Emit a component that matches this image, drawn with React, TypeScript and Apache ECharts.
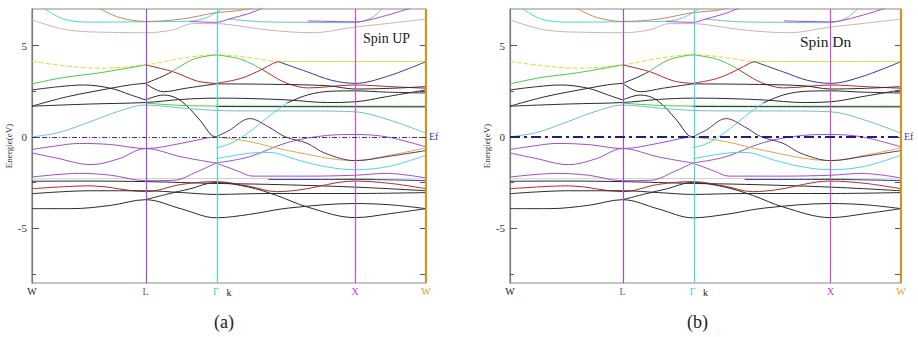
import React, { useEffect, useRef } from "react";
import * as echarts from "echarts";

type Pt = [number, number];

// ---- axes / labels ----
const kTicks = [0, 0.288, 0.467, 0.82, 1];
const kLabels = ["W", "L", "Γ", "X", "W"];
const energyLabels = [-5, 0, 5];
const energyMinor = [-7.5, -2.5, 2.5];
const energyMin = -8;
const energyMax = 7;
const fermiLevel = 0;
const panelTitles = ["Spin UP", "Spin Dn"];
const panelCaptions = ["(a)", "(b)"];

// ---- bands (k along W-L-Γ-X-W, E in eV) ----
const topCyan: Pt[] = [[0.03, 7.05], [0.08, 6.45], [0.15, 6.28], [0.288, 6.3], [0.4, 6.33], [0.44, 6.5], [0.467, 6.8], [0.49, 7.1]];
const topTeal: Pt[] = [[0.5, 6.45], [0.586, 6.3], [0.7, 6.27], [0.815, 6.25], [0.86, 6.5], [0.891, 7.05]];
const topMagenta: Pt[] = [[0.4, 6.32], [0.467, 6.27], [0.503, 6.47], [0.55, 6.75], [0.586, 7.05]];
const topPurple: Pt[] = [[0.7, 6.35], [0.82, 6.3], [0.9, 6.65], [0.96, 7.05]];
const topOrange: Pt[] = [[0.17, 7.05], [0.22, 6.55], [0.288, 6.32], [0.38, 6.45], [0.467, 6.8], [0.52, 6.9], [0.56, 7.05]];
const topGray: Pt[] = [[0, 6.41], [0.088, 5.86], [0.2, 5.72], [0.288, 5.7], [0.358, 5.86], [0.408, 6.2], [0.467, 6.2], [0.502, 6.14], [0.6, 5.85], [0.714, 5.7], [0.815, 6.0], [0.9, 6.2], [1, 6.45]];

const yellowDashed: Pt[] = [[0, 4.13], [0.08, 3.9], [0.164, 3.76], [0.288, 3.94], [0.38, 4.3], [0.467, 4.49], [0.53, 4.4], [0.617, 4.12]];
const yellowSolid: Pt[] = [[0.617, 4.12], [0.82, 4.12], [1, 4.12]];
const greenWL: Pt[] = [[0, 2.9], [0.08, 3.25], [0.17, 3.5], [0.288, 3.94]];
const darkRedLG: Pt[] = [[0.288, 3.94], [0.36, 3.55], [0.42, 3.05], [0.467, 2.93]];
const blackRiseL: Pt[] = [[0.288, 2.93], [0.33, 3.3], [0.355, 3.57]];
const greenRiseL: Pt[] = [[0.355, 3.57], [0.41, 4.25], [0.467, 4.49]];
const greenGX: Pt[] = [[0.467, 4.49], [0.53, 4.25], [0.584, 3.7]];
const redUpGX: Pt[] = [[0.467, 2.93], [0.53, 3.2], [0.584, 3.7], [0.61, 4.0], [0.625, 4.12]];
const redDownGX: Pt[] = [[0.584, 3.7], [0.63, 3.1], [0.66, 2.84], [0.7, 2.68], [0.82, 2.84], [0.91, 2.75], [1, 2.66]];
const blueGXW: Pt[] = [[0.625, 4.12], [0.7, 3.55], [0.76, 3.1], [0.82, 2.93], [0.9, 3.3], [1, 4.12]];

const blackW1: Pt[] = [[0, 2.57], [0.07, 2.75], [0.13, 2.84], [0.2, 2.66], [0.25, 2.3], [0.288, 2.02]];
const blackW2: Pt[] = [[0, 1.68], [0.09, 2.2], [0.2, 2.66], [0.25, 2.85], [0.288, 2.93]];
const blackL1: Pt[] = [[0.288, 2.02], [0.333, 2.29], [0.375, 2.02], [0.426, 0.92], [0.455, 0.1], [0.467, 0]];
const blackL2: Pt[] = [[0.288, 2.93], [0.333, 2.47], [0.39, 2.66], [0.467, 2.9]];
const blackFlatLong: Pt[] = [[0, 1.68], [0.15, 1.8], [0.288, 1.88], [0.38, 2.05], [0.467, 2.12], [0.55, 2.1], [0.65, 2.02], [0.75, 1.88], [0.82, 1.92], [0.9, 2.2], [1, 2.57]];
const blackG1: Pt[] = [[0.467, 2.9], [0.6, 2.88], [0.75, 2.8], [0.82, 2.62], [0.9, 2.65], [1, 2.75]];
const blackG3: Pt[] = [[0.647, 1.85], [0.7, 2.3], [0.76, 2.5], [0.82, 2.52], [0.9, 2.45], [1, 2.4]];
const blackFlatG: Pt[] = [[0.467, 1.66], [0.7, 1.65], [1, 1.64]];
const greenFlat: Pt[] = [[0.288, 1.85], [0.38, 1.72], [0.467, 1.69], [0.7, 1.68], [1, 1.68]];
const tealBand: Pt[] = [[0, 0.0], [0.07, 0.25], [0.15, 0.85], [0.22, 1.4], [0.288, 1.74], [0.39, 1.56], [0.467, 1.45], [0.55, 1.42], [0.7, 1.42], [0.82, 1.37], [0.91, 0.9], [1, 0.2]];
const cyanRise: Pt[] = [[0.467, -0.6], [0.5, -0.4], [0.53, -0.05], [0.56, 0.4], [0.6, 1.1], [0.647, 1.85]];

const purpleA: Pt[] = [[0, -0.69], [0.06, -0.5], [0.12, -0.36], [0.2, -0.42], [0.288, -0.64], [0.38, -0.35], [0.44, -0.08], [0.467, 0]];
const purpleB: Pt[] = [[0, -0.88], [0.06, -1.15], [0.15, -1.52], [0.22, -1.2], [0.288, -0.64], [0.38, -1.1], [0.467, -1.43]];
const purpleC: Pt[] = [[0, -2.2], [0.12, -2.0], [0.2, -2.1], [0.288, -2.4], [0.36, -2.38], [0.42, -1.9], [0.467, -1.43]];
const purpleP1: Pt[] = [[0.467, -1.43], [0.55, -1.1], [0.65, -0.3], [0.75, 0.08], [0.82, 0.13], [0.9, 0.0], [1, -0.55]];
const purpleP3: Pt[] = [[0.467, -1.43], [0.52, -1.85], [0.56, -2.15], [0.7, -2.15], [0.82, -2.1], [0.9, -2.0], [1, -2.25]];
const orangeBand: Pt[] = [[0.467, 0], [0.55, -0.25], [0.65, -0.75], [0.82, -1.3], [0.91, -1.0], [1, -0.6]];
const darkBand: Pt[] = [[0.467, 0], [0.5, 0.35], [0.553, 1.0], [0.6, 0.55], [0.643, 0], [0.698, -0.35], [0.744, -0.9], [0.82, -1.3], [0.91, -1.05], [1, -0.75]];
const cyanLow: Pt[] = [[0.467, -1.2], [0.55, -0.9], [0.6, -0.85], [0.68, -1.3], [0.75, -1.65], [0.82, -1.8], [0.91, -1.6], [1, -1.0]];

const grayFlat: Pt[] = [[0, -2.3], [0.5, -2.28], [1, -2.3]];
const blackV4: Pt[] = [[0, -2.43], [0.15, -2.42], [0.288, -2.45], [0.38, -2.5], [0.467, -2.55], [0.6, -2.6], [0.82, -2.75], [1, -2.95]];
const blueLow: Pt[] = [[0.6, -2.33], [0.82, -2.33], [1, -2.4]];
const limeLow: Pt[] = [[0.77, -2.3], [0.82, -2.28], [0.87, -2.3]];
const redLow: Pt[] = [[0, -2.84], [0.15, -2.68], [0.288, -3.0], [0.38, -2.6], [0.467, -2.45], [0.55, -2.7], [0.62, -3.0], [0.68, -2.9], [0.82, -2.42], [0.91, -2.55], [1, -2.84]];
const blackV3: Pt[] = [[0, -3.11], [0.15, -2.95], [0.288, -2.95], [0.38, -3.05], [0.467, -3.15], [0.6, -3.1], [0.82, -3.1], [1, -3.05]];
const blackLow1: Pt[] = [[0, -3.93], [0.1, -3.93], [0.2, -3.75], [0.288, -3.44], [0.38, -3.95], [0.467, -4.43], [0.55, -4.25], [0.65, -3.9], [0.82, -3.65], [0.91, -3.72], [1, -3.93]];
const blackLow2: Pt[] = [[0.288, -3.44], [0.35, -3.1], [0.4, -2.85], [0.467, -2.5], [0.55, -2.75], [0.62, -3.2], [0.7, -3.85], [0.82, -4.42], [0.91, -4.2], [1, -3.93]];

// ---- styles ----
const C = {
  black: "#2a2a2a",
  purple: "#a24ccc",
  teal: "#6cc2ba",
  cyan: "#4cd4dc",
  green: "#48c848",
  yellow: "#e2da3a",
  red: "#b02a2a",
  blue: "#2a3aa8",
  orange: "#e0a448",
  gray: "#cfcfcf",
  pinkGray: "#c9b4b4",
  brown: "#c88850",
  dark: "#5a3458",
  magenta: "#b444c4",
  lime: "#a8d830",
};

const bandTable: { data: Pt[]; color: string; dash?: number[] }[] = [
  { data: topGray, color: C.pinkGray },
  { data: topCyan, color: C.cyan },
  { data: topTeal, color: C.teal },
  { data: topMagenta, color: C.magenta },
  { data: topPurple, color: C.purple },
  { data: topOrange, color: C.brown },
  { data: yellowDashed, color: C.yellow, dash: [5, 2] },
  { data: yellowSolid, color: C.yellow },
  { data: greenWL, color: C.green },
  { data: darkRedLG, color: C.red },
  { data: blackRiseL, color: C.black },
  { data: greenRiseL, color: C.green },
  { data: greenGX, color: C.green },
  { data: redUpGX, color: C.red },
  { data: redDownGX, color: C.red },
  { data: blueGXW, color: C.blue },
  { data: blackW1, color: C.black },
  { data: blackW2, color: C.black },
  { data: blackL1, color: C.black },
  { data: blackL2, color: C.black },
  { data: blackFlatLong, color: C.black },
  { data: blackG1, color: C.black },
  { data: blackG3, color: C.black },
  { data: greenFlat, color: C.green },
  { data: blackFlatG, color: C.black },
  { data: tealBand, color: C.teal },
  { data: cyanRise, color: C.cyan },
  { data: grayFlat, color: C.gray },
  { data: limeLow, color: C.lime },
  { data: blueLow, color: C.blue },
  { data: blackV4, color: C.black },
  { data: redLow, color: C.red },
  { data: blackV3, color: C.black },
  { data: blackLow1, color: C.black },
  { data: blackLow2, color: C.black },
  { data: purpleA, color: C.purple },
  { data: purpleB, color: C.purple },
  { data: purpleC, color: C.purple },
  { data: purpleP1, color: C.purple },
  { data: purpleP3, color: C.purple },
  { data: cyanLow, color: C.cyan },
  { data: orangeBand, color: C.orange },
  { data: darkBand, color: C.dark },
];

const SERIF = "Liberation Serif";
const labelColors = ["#222", "#8c48c8", "#40ccd0", "#c040c8", "#d4a020"];
const labelKeys = ["w0", "l", "g", "x", "w1"];
const vLineColors = ["#9a4ed0", "#46dcd4", "#d04ed4", "#c89820"];

const grids = [
  { left: 32, top: 9, width: 394, height: 274 },
  { left: 510, top: 9, width: 391, height: 274 },
];

function buildOption() {
  const xAxis: any[] = [];
  const yAxis: any[] = [];
  const series: any[] = [];
  grids.forEach((_, p) => {
    const rich: any = {};
    labelKeys.forEach((key, i) => {
      rich[key] = { color: labelColors[i], fontFamily: SERIF, fontSize: 10 };
    });
    xAxis.push({
      gridIndex: p,
      type: "value",
      min: 0,
      max: 1,
      axisLine: { show: false },
      axisTick: { show: false },
      splitLine: { show: false },
      axisLabel: {
        customValues: kTicks,
        margin: 3,
        fontFamily: SERIF,
        fontSize: 10,
        showMinLabel: true,
        showMaxLabel: true,
        formatter: (v: number) => {
          let bi = 0;
          kTicks.forEach((t, i) => {
            if (Math.abs(t - v) < Math.abs(kTicks[bi] - v)) bi = i;
          });
          return `{${labelKeys[bi]}|${kLabels[bi]}}`;
        },
        rich,
      },
      name: "k",
      nameLocation: "middle",
      nameGap: 4,
      nameMoveOverlap: false,
      nameTextStyle: { fontFamily: SERIF, fontSize: 10, color: "#222", verticalAlign: "top" },
    });
    yAxis.push({
      gridIndex: p,
      type: "value",
      min: energyMin,
      max: energyMax,
      position: "left",
      axisLine: { show: true, lineStyle: { color: "#7a7a7a", width: 1.2 } },
      axisTick: { show: true, inside: true, length: 7, customValues: energyLabels, lineStyle: { color: "#555" } },
      axisLabel: { customValues: energyLabels, margin: 5, fontFamily: SERIF, fontSize: 11, color: "#333" },
      splitLine: { show: false },
      name: "Energie(eV)",
      nameLocation: "middle",
      nameRotate: 90,
      nameGap: 19,
      nameMoveOverlap: false,
      nameTextStyle: { fontFamily: SERIF, fontSize: 9, color: "#333" },
    });
    yAxis.push({
      gridIndex: p,
      type: "value",
      min: energyMin,
      max: energyMax,
      position: "left",
      axisLine: { show: false },
      axisTick: { show: true, inside: true, length: 4, customValues: energyMinor, lineStyle: { color: "#555" } },
      axisLabel: { show: false },
      splitLine: { show: false },
    });
    yAxis.push({
      gridIndex: p,
      type: "value",
      min: energyMin,
      max: energyMax,
      position: "right",
      axisLine: { show: false },
      axisTick: { show: true, inside: true, length: 6, customValues: [...energyMinor, ...energyLabels], lineStyle: { color: "#555" } },
      axisLabel: { show: false },
      splitLine: { show: false },
    });
    const yi = p * 3;
    series.push({
      type: "line",
      xAxisIndex: p,
      yAxisIndex: yi,
      data: [],
      silent: true,
      z: 1,
      markLine: {
        silent: true,
        symbol: ["none", "none"],
        label: { show: false },
        data: kTicks.slice(1).map((k, i) => ({
          xAxis: k,
          lineStyle: { color: vLineColors[i], width: i === 3 ? 2.2 : 1.2, type: "solid" },
        })),
      },
    });
    bandTable.forEach((b) => {
      series.push({
        type: "line",
        xAxisIndex: p,
        yAxisIndex: yi,
        data: b.data,
        smooth: 0.35,
        symbol: "none",
        silent: true,
        z: 3,
        lineStyle: { color: b.color, width: 1, type: b.dash ? b.dash : "solid" },
      });
    });
    series.push({
      type: "line",
      xAxisIndex: p,
      yAxisIndex: yi,
      data: [],
      silent: true,
      z: 5,
      markLine: {
        silent: true,
        symbol: ["none", "none"],
        data: [
          {
            yAxis: fermiLevel,
            lineStyle: p === 0
              ? { color: "#34348a", width: 1, type: [5, 2, 1, 2] }
              : { color: "#1e1e88", width: 2.2, type: [10, 4, 3, 4] },
            label: {
              show: true,
              position: "end",
              formatter: "Ef",
              distance: 3,
              color: "#4040a0",
              fontFamily: SERIF,
              fontSize: 10,
            },
          },
        ],
      },
    });
  });

  return {
    animation: false,
    backgroundColor: "#ffffff",
    textStyle: { fontFamily: SERIF },
    grid: grids.map((g) => ({ ...g, show: true, borderColor: "#8a8a8a", borderWidth: 1.2, backgroundColor: "transparent" })),
    xAxis,
    yAxis,
    series,
    graphic: [
      { type: "text", left: 363, top: 31, style: { text: panelTitles[0], font: `14px ${SERIF}`, fill: "#222" } },
      { type: "text", left: 800, top: 33, style: { text: panelTitles[1], font: `15.5px ${SERIF}`, fill: "#222" } },
      { type: "text", left: 214, top: 313, style: { text: panelCaptions[0], font: `18px ${SERIF}`, fill: "#222" } },
      { type: "text", left: 687, top: 313, style: { text: panelCaptions[1], font: `18px ${SERIF}`, fill: "#222" } },
    ],
  };
}

export default function App() {
  const ref = useRef<HTMLDivElement>(null);
  useEffect(() => {
    if (!ref.current) return;
    const chart = echarts.init(ref.current, null, { renderer: "svg" });
    chart.setOption(buildOption() as any);
    return () => chart.dispose();
  }, []);
  return (
    <div
      ref={ref}
      style={{ position: "absolute", left: 0, top: 0, width: 918, height: 337, background: "#fff" }}
    />
  );
}
